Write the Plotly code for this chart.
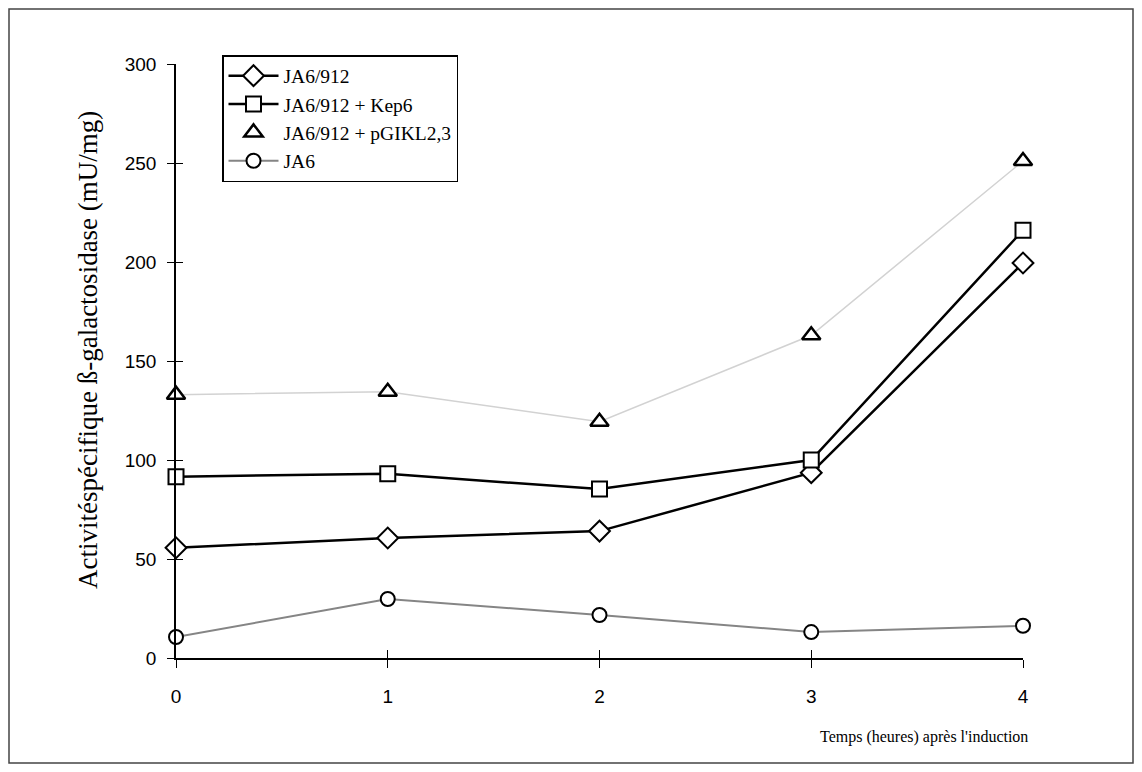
import plotly.graph_objects as go

# ---- data ----
hours = [0, 1, 2, 3, 4]
ja6_912 = [55.7, 60.6, 64.1, 93.6, 199.5]
ja6_912_kep6 = [91.6, 93.0, 85.3, 100.0, 216.0]
ja6_912_pgikl = [133.0, 134.5, 119.3, 163.0, 251.0]
ja6 = [10.6, 29.8, 21.7, 13.1, 16.3]
names = ["JA6/912", "JA6/912 + Kep6", "JA6/912 + pGIKL2,3", "JA6"]
x_ticks = [0, 1, 2, 3, 4]
y_ticks = [0, 50, 100, 150, 200, 250, 300]

# page body margin offsets the figure by 8px on every side
OFF = 8
PW, PH = 1142, 772
W, H = PW - 2 * OFF, PH - 2 * OFF
# plot area in picture pixels: x 176..1023, y 64..658
L, T = 176 - OFF, 64 - OFF
R = W - (1023 - OFF)
B = H - (658 - OFF)
pw, ph = W - L - R, H - T - B

def px_x(p):
    return (p - OFF - L) / pw

def px_y(p):
    return (H - B - (p - OFF)) / ph

serif = "Liberation Serif, Times New Roman, serif"
sans = "Liberation Sans, Arial, sans-serif"

fig = go.Figure()

mk_line = dict(color="black", width=2)

# faint connecting line for the pGIKL series (not in legend)
fig.add_trace(go.Scatter(x=hours, y=ja6_912_pgikl, mode="lines",
                         line=dict(color="#d2d2d2", width=1.5),
                         showlegend=False, hoverinfo="skip", cliponaxis=False))

fig.add_trace(go.Scatter(x=hours, y=ja6_912, mode="lines+markers", name=names[0],
                         line=dict(color="black", width=2.5),
                         marker=dict(symbol="diamond", size=16, color="white", line=mk_line),
                         cliponaxis=False))
fig.add_trace(go.Scatter(x=hours, y=ja6_912_kep6, mode="lines+markers", name=names[1],
                         line=dict(color="black", width=2.5),
                         marker=dict(symbol="square", size=15, color="white", line=mk_line),
                         cliponaxis=False))
fig.add_trace(go.Scatter(x=hours, y=ja6_912_pgikl, mode="markers", name=names[2],
                         marker=dict(symbol="triangle-up", size=16, color="white",
                                     line=dict(color="black", width=2.5)),
                         cliponaxis=False))
fig.add_trace(go.Scatter(x=hours, y=ja6, mode="lines+markers", name=names[3],
                         line=dict(color="#858585", width=2),
                         marker=dict(symbol="circle", size=14, color="white", line=mk_line),
                         cliponaxis=False))

# invisible trace to carry the overlay axes (inner half of crossing ticks)
fig.add_trace(go.Scatter(x=[None], y=[None], xaxis="x2", yaxis="y2",
                         showlegend=False, hoverinfo="skip"))

fig.update_layout(
    width=W, height=H,
    margin=dict(l=L, r=R, t=T, b=B),
    paper_bgcolor="white", plot_bgcolor="white",
    showlegend=True,
    legend=dict(x=px_x(222), y=px_y(55), xanchor="left", yanchor="top",
                bgcolor="white", bordercolor="black", borderwidth=1.5,
                font=dict(family=serif, size=19.5, color="black"),
                tracegroupgap=0, itemwidth=50),
    xaxis=dict(range=[0, 4], tickvals=x_ticks, ticks="outside", ticklen=8,
               tickwidth=1, tickcolor="black", showgrid=False, zeroline=False,
               showline=True, linecolor="black", linewidth=1.5,
               tickfont=dict(family=sans, size=19, color="black"), ticklabelstandoff=12),
    yaxis=dict(range=[0, 300], tickvals=y_ticks, ticks="outside", ticklen=7,
               tickwidth=1, tickcolor="black", showgrid=False, zeroline=False,
               showline=True, linecolor="black", linewidth=1.5,
               tickfont=dict(family=sans, size=19, color="black"), ticklabelstandoff=7),
    xaxis2=dict(range=[0, 4], overlaying="x", anchor="y", tickvals=x_ticks,
                ticks="inside", ticklen=8, tickwidth=1, tickcolor="black",
                showticklabels=False, showgrid=False, zeroline=False, showline=False),
    yaxis2=dict(range=[0, 300], overlaying="y", anchor="x", tickvals=y_ticks,
                ticks="inside", ticklen=7, tickwidth=1, tickcolor="black",
                showticklabels=False, showgrid=False, zeroline=False, showline=False),
    annotations=[
        dict(text="Activitéspécifique ß-galactosidase (mU/mg)", xref="paper", yref="paper",
             x=px_x(88), y=px_y(350), textangle=-90, showarrow=False,
             xanchor="center", yanchor="middle",
             font=dict(family=serif, size=27, color="black")),
        dict(text="Temps (heures) après l'induction", xref="paper", yref="paper",
             x=px_x(1030), y=px_y(737), showarrow=False,
             xanchor="right", yanchor="middle",
             font=dict(family=serif, size=16, color="black")),
    ],
    shapes=[
        dict(type="rect", xref="paper", yref="paper",
             x0=px_x(OFF + 1), x1=px_x(PW - OFF - 1), y0=px_y(PH - OFF - 1), y1=px_y(OFF + 1),
             line=dict(color="#444", width=1.5), layer="below"),
    ],
)

fig.write_html("out.html")
